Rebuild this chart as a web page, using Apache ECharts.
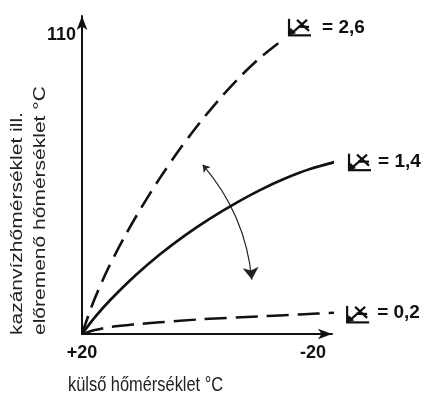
<!DOCTYPE html>
<html>
<head>
<meta charset="utf-8">
<style>
  html, body { margin: 0; padding: 0; background: #fff; }
  #chart { width: 424px; height: 405px; }
</style>
<script src="https://cdn.jsdelivr.net/npm/echarts@6/dist/echarts.min.js"></script>
</head>
<body>
<div id="chart"></div>
<script>
// Heating curves: flow temperature vs. outdoor temperature for three slopes
const slopeLabels = ['2,6', '1,4', '0,2'];

const outdoor26 = [20, 18.10, 15.67, 12.90, 9.96, 6.49, 3.03, -0.43, -3.90, -7.36, -10.82, -14.29];
const flow26    = [20, 29.33, 39.02, 48.41, 57.35, 66.99, 75.72, 83.66, 90.89, 97.39, 103.11, 107.92];

const outdoor14 = [20, 17.75, 15.15, 10.82, 6.49, 2.16, -2.16, -6.49, -10.82, -15.15, -19.48, -24.68];
const flow14    = [20, 25.09, 30.14, 37.52, 43.99, 49.71, 54.74, 59.25, 63.31, 66.78, 69.64, 72.16];

const outdoor02 = [20, 17.75, 15.15, 10.8, 6.5, -0.4, -10.8, -17.7, -24.7];
const flow02    = [20, 21.2, 22.1, 22.9, 23.5, 24.4, 25.3, 25.9, 26.5];

// tick labels shown on the axes
const xTickLabels = { '20': '+20', '-20': '-20' };
const yTickLabels = { '110': '110' };

// direction arrow between the curves (outdoor, flow)
const turnArrow = [[-0.9, 70.9], [-9.4, 36.4]];

const FONT = '"Liberation Sans", Arial, Helvetica, sans-serif';
const INK = '#111';

function pairs(xs, ys) { return xs.map((x, i) => [x, ys[i]]); }

const chart = echarts.init(document.getElementById('chart'), null, { renderer: 'canvas' });

const option = {
  animation: false,
  backgroundColor: '#fff',
  grid: { left: 82, right: 92, top: 16, bottom: 71 },
  xAxis: {
    type: 'value',
    inverse: true,
    min: -23.29,
    max: 20,
    splitLine: { show: false },
    axisTick: { show: false },
    axisLine: {
      onZero: false,
      symbol: ['none', 'arrow'],
      symbolSize: [8, 14],
      lineStyle: { color: INK, width: 2 }
    },
    axisLabel: {
      formatter: v => xTickLabels[String(v)] || '',
      color: INK, fontFamily: FONT, fontWeight: 'bold', fontSize: 18, margin: 10,
      showMinLabel: true, showMaxLabel: true
    }
  },
  yAxis: {
    type: 'value',
    min: 20,
    max: 115.7,
    interval: 10,
    splitLine: { show: false },
    axisTick: { show: false },
    axisLine: {
      show: true,
      onZero: false,
      symbol: ['none', 'arrow'],
      symbolSize: [8, 14],
      lineStyle: { color: INK, width: 2 }
    },
    axisLabel: {
      formatter: v => yTickLabels[String(v)] || '',
      color: INK, fontFamily: FONT, fontWeight: 'bold', fontSize: 18, margin: 6,
      showMaxLabel: false
    }
  },
  series: [
    {
      name: slopeLabels[0], type: 'line', smooth: 0.3, symbol: 'none', clip: false,
      data: pairs(outdoor26, flow26),
      lineStyle: { color: INK, width: 2.6, type: [19, 9] }
    },
    {
      name: slopeLabels[1], type: 'line', smooth: 0.3, symbol: 'none', clip: false,
      data: pairs(outdoor14, flow14),
      lineStyle: { color: INK, width: 2.7 }
    },
    {
      name: slopeLabels[2], type: 'line', smooth: 0.3, symbol: 'none', clip: false,
      data: pairs(outdoor02, flow02),
      lineStyle: { color: INK, width: 2.5, type: [22, 9] }
    },
    {
      type: 'lines', coordinateSystem: 'cartesian2d', silent: true,
      symbol: ['arrow', 'arrow'], symbolSize: [7, 12],
      lineStyle: { color: '#222', width: 1.2, curveness: 0.16, opacity: 1 },
      data: [{ coords: turnArrow }]
    }
  ]
};
chart.setOption(option);

// slope symbol: a small drawn glyph (corner, arrow, cross, underline)
function slopeIcon(x, y) {
  const s = { stroke: INK, lineWidth: 2.2, lineCap: 'butt' };
  const seg = (x1, y1, x2, y2) => ({ type: 'line', shape: { x1, y1, x2, y2 }, style: s });
  return {
    type: 'group', x, y, silent: true,
    children: [
      seg(1, -17, 1, 0),
      seg(0, -0.5, 23, -0.5),
      seg(19, -16, 3, -2),
      seg(9, -16, 21, -5),
      seg(10, -9, 21, -9),
      { type: 'polygon', shape: { points: [[0.5, -0.5], [8, -2.5], [2.5, -8]] }, style: { fill: INK } }
    ]
  };
}

const ends = [
  { xs: outdoor26, ys: flow26, icon: [8, -6], text: [42, -14] },
  { xs: outdoor14, ys: flow14, icon: [8, 10], text: [38, 1] },
  { xs: outdoor02, ys: flow02, icon: [6, 10.5], text: [37, 0.5] }
];

const graphics = [];
ends.forEach((e, i) => {
  const n = e.xs.length - 1;
  const p = chart.convertToPixel({ gridIndex: 0 }, [e.xs[n], e.ys[n]]);
  graphics.push(slopeIcon(p[0] + e.icon[0], p[1] + e.icon[1]));
  graphics.push({
    type: 'text', x: p[0] + e.text[0], y: p[1] + e.text[1], silent: true,
    style: {
      text: '= ' + slopeLabels[i], fill: INK, font: 'bold 19px ' + FONT,
      align: 'left', verticalAlign: 'middle'
    }
  });
});

// axis titles (set slightly narrow, as in the printed figure)
graphics.push({
  type: 'text', x: 28.5, y: 335, rotation: Math.PI / 2, scaleY: 0.82, silent: true,
  style: {
    text: 'kazánvízhőmérséklet ill.\nelőremenő hőmérséklet °C',
    fill: '#222', font: '21px ' + FONT, lineHeight: 28,
    align: 'left', verticalAlign: 'middle'
  }
});
graphics.push({
  type: 'text', x: 68, y: 385, scaleX: 0.82, silent: true,
  style: {
    text: 'külső hőmérséklet °C', fill: '#222', font: '20px ' + FONT,
    align: 'left', verticalAlign: 'middle'
  }
});

chart.setOption({ graphic: graphics });
</script>
</body>
</html>
